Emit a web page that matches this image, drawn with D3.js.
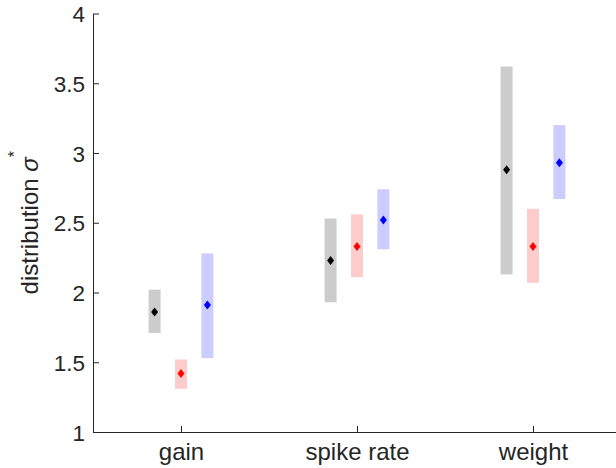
<!DOCTYPE html>
<html>
<head>
<meta charset="utf-8">
<script src="https://cdn.jsdelivr.net/npm/d3@7"></script>
<style>
  body { margin: 0; background: #fff; }
  svg { display: block; font-family: "Liberation Sans", Arial, sans-serif; }
</style>
</head>
<body>
<svg id="chart" width="616" height="468"></svg>
<script>
// Categories and tick labels
var categories = ['gain', 'spike rate', 'weight'];
var yTicks = [1, 1.5, 2, 2.5, 3, 3.5, 4];

// Three series per category: median (marker) and range (bar)
var seriesNames = ['black', 'red', 'blue'];
var seriesColors = ['#000000', '#ff0000', '#0000ff'];
var seriesFills = ['#cccccc', '#ffcccc', '#ccccff'];

var medBlack = [1.86, 2.23, 2.88];
var lowBlack = [1.71, 1.93, 2.13];
var highBlack = [2.02, 2.53, 3.62];

var medRed = [1.42, 2.33, 2.33];
var lowRed = [1.31, 2.11, 2.07];
var highRed = [1.52, 2.56, 2.60];

var medBlue = [1.91, 2.52, 2.93];
var lowBlue = [1.53, 2.31, 2.67];
var highBlue = [2.28, 2.74, 3.20];

var meds = [medBlack, medRed, medBlue];
var lows = [lowBlack, lowRed, lowBlue];
var highs = [highBlack, highRed, highBlue];

var axisColor = '#262626';
// plot edges (right edge falls outside the window, as in the original)
var plotLeft = 93, plotTop = 13.5, plotBottom = 432, plotRight = 621;

var svg = d3.select('#chart');

var x = d3.scalePoint()
  .domain(categories)
  .range([plotLeft, plotRight])
  .padding(0.5);

var y = d3.scaleLinear()
  .domain([1, 4])
  .range([plotBottom, plotTop]);

var offset = 0.15 * x.step();
var barWidth = 12;

// Bars and markers
seriesNames.forEach(function(name, s) {
  var g = svg.append('g').attr('class', 'series-' + name);
  var rows = categories.map(function(c, i) {
    return {cat: c, lo: lows[s][i], hi: highs[s][i], med: meds[s][i]};
  });

  g.selectAll('rect')
    .data(rows)
    .enter()
    .append('rect')
    .attr('x', function(d) { return x(d.cat) + (s - 1) * offset - barWidth / 2; })
    .attr('y', function(d) { return y(d.hi); })
    .attr('width', barWidth)
    .attr('height', function(d) { return y(d.lo) - y(d.hi); })
    .attr('fill', seriesFills[s]);

  g.selectAll('path')
    .data(rows)
    .enter()
    .append('path')
    .attr('transform', function(d) {
      return 'translate(' + (x(d.cat) + (s - 1) * offset) + ',' + y(d.med) + ')';
    })
    .attr('d', 'M0,-4.5L3.5,0L0,4.5L-3.5,0Z')
    .attr('fill', seriesColors[s]);
});

// Y axis (ticks inward)
var yAxis = svg.append('g')
  .attr('transform', 'translate(' + plotLeft + ',0)')
  .call(d3.axisLeft(y).tickValues(yTicks).tickSizeInner(-6).tickSizeOuter(0)
    .tickFormat(function(d) { return String(d); }));

// X axis (ticks inward)
var xAxis = svg.append('g')
  .attr('transform', 'translate(0,' + plotBottom + ')')
  .call(d3.axisBottom(x).tickSizeInner(-6).tickSizeOuter(0));

[yAxis, xAxis].forEach(function(a) {
  a.attr('font-size', null).attr('font-family', null);
  a.select('.domain').attr('stroke', axisColor).attr('stroke-width', 1);
  a.selectAll('.tick line').attr('stroke', axisColor);
  a.selectAll('.tick text').attr('fill', axisColor);
});
yAxis.selectAll('.tick text').attr('x', -8).attr('dy', '0.36em').style('font-size', '22.5px');
xAxis.selectAll('.tick text').attr('y', 11).attr('dy', '0.71em').style('font-size', '24px');

// Y label
var label = svg.append('text')
  .attr('transform', 'translate(38,' + ((plotTop + plotBottom) / 2) + ') rotate(-90)')
  .attr('text-anchor', 'middle')
  .attr('fill', axisColor)
  .style('font-size', '24px');
label.append('tspan').text('distribution ');
label.append('tspan').attr('font-style', 'italic').text('σ');
label.append('tspan').attr('dy', -18).style('font-size', '16px').text('*');
</script>
</body>
</html>
